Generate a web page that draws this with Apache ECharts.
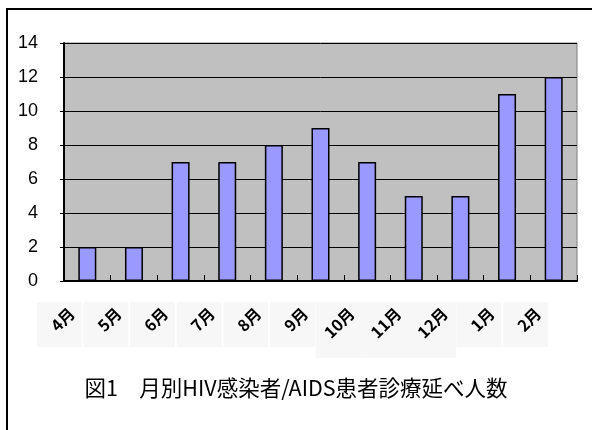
<!DOCTYPE html>
<html>
<head>
<meta charset="utf-8">
<script src="https://cdn.jsdelivr.net/npm/echarts@6/dist/echarts.min.js"></script>
<style>
  html, body { margin: 0; padding: 0; background: #fff; }
  #chart { width: 592px; height: 430px; }
</style>
</head>
<body>
<div id="chart"></div>
<script>
// Monthly counts of HIV/AIDS patient visits
const months = ['4月', '5月', '6月', '7月', '8月', '9月', '10月', '11月', '12月', '1月', '2月'];
const visits = [2, 2, 7, 7, 8, 9, 7, 5, 5, 11, 12];
const yTicks = [0, 2, 4, 6, 8, 10, 12, 14];
const caption = '図1\u3000月別HIV感染者/AIDS患者診療延べ人数';

const labelFont = '"Noto Sans CJK JP", sans-serif';

const chart = echarts.init(document.getElementById('chart'), null, { renderer: 'canvas' });

chart.setOption({
  animation: false,
  backgroundColor: '#ffffff',
  title: {
    text: caption,
    left: 'center',
    top: 372,
    textStyle: {
      fontFamily: labelFont,
      fontSize: 21.5,
      fontWeight: 'normal',
      color: '#000'
    }
  },
  graphic: [{
    type: 'rect',
    silent: true,
    z: -10,
    shape: { x: 7, y: 9, width: 800, height: 600 },
    style: { fill: null, stroke: '#000', lineWidth: 2 }
  }],
  grid: [{
    left: 64,
    top: 43,
    right: 15,
    bottom: 149,
    show: true,
    backgroundColor: '#c0c0c0',
    borderColor: '#808080',
    borderWidth: 1
  }, {
    // pale panels behind the month labels, shifted left of each bar slot
    left: 36,
    top: 43,
    right: 43,
    bottom: 149,
    show: false
  }],
  xAxis: [{
    type: 'category',
    gridIndex: 0,
    z: 5,
    data: months,
    axisLine: { lineStyle: { color: '#000', width: 2 } },
    axisTick: { show: true, inside: true, length: 6, alignWithLabel: false, lineStyle: { color: '#000', width: 1 } },
    axisLabel: {
      rotate: 45,
      margin: 14,
      padding: [0, 22, 0, 0],
      fontFamily: labelFont,
      fontSize: 16,
      fontWeight: 'bold',
      color: '#000',
      interval: 0
    },
    splitLine: { show: false }
  }, {
    type: 'category',
    gridIndex: 1,
    z: 1,
    data: months,
    axisLine: { show: false },
    axisTick: { show: false },
    splitLine: { show: false },
    axisLabel: {
      interval: 0,
      margin: 21,
      formatter: (v) => (v.length > 2 ? '{tall| }' : '{box| }'),
      rich: {
        box: { width: 45, height: 45, backgroundColor: '#f7f7f7', verticalAlign: 'top' },
        tall: { width: 47, height: 56, backgroundColor: '#f7f7f7', verticalAlign: 'top' }
      }
    }
  }],
  yAxis: [{
    type: 'value',
    gridIndex: 0,
    min: yTicks[0],
    max: yTicks[yTicks.length - 1],
    interval: 2,
    axisLine: { show: true, lineStyle: { color: '#000', width: 2 } },
    axisTick: { show: true, length: 4, lineStyle: { color: '#000', width: 1 } },
    axisLabel: {
      margin: 26,
      fontFamily: '"Liberation Sans", Arial, sans-serif',
      fontSize: 18,
      color: '#000'
    },
    splitLine: { show: true, lineStyle: { color: '#000', width: 1 } }
  }, {
    type: 'value',
    gridIndex: 1,
    show: false,
    min: 0,
    max: 14
  }],
  series: [{
    type: 'bar',
    xAxisIndex: 0,
    yAxisIndex: 0,
    data: visits,
    barWidth: 18,
    itemStyle: { color: '#9999ff', borderColor: '#000', borderWidth: 1.5 }
  }]
});
</script>
</body>
</html>
